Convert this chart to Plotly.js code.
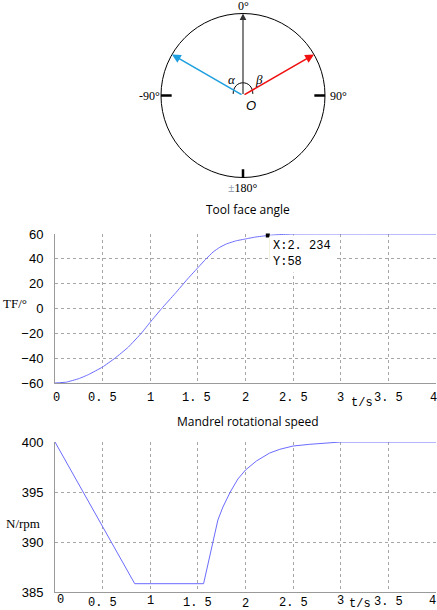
<!DOCTYPE html>
<html>
<head>
<meta charset="utf-8">
<script src="https://cdn.plot.ly/plotly-3.0.1.min.js"></script>
<style>html,body{margin:0;padding:0;background:#fff;}#chart{width:437px;height:610px;}</style>
</head>
<body>
<div id="chart"></div>
<script>
// ---- data ----
const tfTime  = [0, 0.12, 0.25, 0.35, 0.5, 0.63, 0.77, 0.91, 1.0, 1.12, 1.26, 1.4, 1.51, 1.58, 1.66, 1.73, 1.8, 1.9, 2.0, 2.1, 2.234, 2.35, 2.5, 4];
const tfAngle = [-60, -59.3, -56.5, -53.3, -47.1, -40, -31.1, -19.6, -11, 0, 12, 24.5, 33.7, 39.5, 45.5, 49.3, 52, 54.5, 56, 57.5, 58.8, 59.5, 60, 60];
const spTime  = [0, 0.837, 1.56, 1.605, 1.658, 1.71, 1.763, 1.84, 1.92, 2.0, 2.114, 2.254, 2.36, 2.5, 2.675, 2.886, 3.0, 4];
const spSpeed = [400, 385.83, 385.83, 387.8, 390.2, 392.2, 393.5, 395, 396.3, 397.2, 398.1, 398.9, 399.27, 399.6, 399.77, 399.93, 400, 400];
const xTickVals = [0, 0.5, 1, 1.5, 2, 2.5, 3, 3.5, 4];
const xTickText = ["0", "0. 5", "1", "1. 5", "2", "2. 5", "3", "3. 5", "4"];
const tfTickVals = [-60, -40, -20, 0, 20, 40, 60];
const spTickVals = [385, 390, 395, 400];
const arrowAngles = [0, -60, 60];       // degrees from the 0° direction
const dataTip = {t: 2.234, y: 58.8, label: "X:2. 234<br>Y:58"};

// ---- helpers ----
const W = 437, H = 610;
const px = v => v / W, py = v => 1 - v / H;
const gridColor = '#a6a6a6', axisColor = '#9a9a9a';
const monoFont = {family: 'Liberation Mono, monospace', size: 12, color: '#000'};
const sansFont = {family: 'Liberation Sans, Arial, sans-serif', size: 13, color: '#000'};
const serifFont = {family: 'Liberation Serif, serif', size: 13, color: '#000'};

function xAxisCfg(anchor) {
  return {
    domain: [px(55), px(436)], range: [0, 4], anchor: anchor,
    tickvals: xTickVals, showticklabels: false,
    showgrid: true, gridcolor: gridColor, griddash: 'dot', gridwidth: 1,
    showline: true, linecolor: axisColor, linewidth: 1,
    zeroline: false, ticks: '', fixedrange: true
  };
}
function yAxisCfg(anchor, dom, rng, vals) {
  return {
    domain: dom, range: rng, anchor: anchor, tickvals: vals, tickfont: sansFont,
    showgrid: true, gridcolor: gridColor, griddash: 'dot', gridwidth: 1,
    showline: true, linecolor: axisColor, linewidth: 1,
    zeroline: false, ticks: '', ticklabelstandoff: 8, fixedrange: true
  };
}

const traces = [
  {x: tfTime, y: tfAngle, xaxis: 'x', yaxis: 'y', mode: 'lines',
   line: {color: '#6b6bff', width: 1, shape: 'spline', smoothing: 0.3}, hoverinfo: 'skip'},
  {x: [dataTip.t], y: [dataTip.y], xaxis: 'x', yaxis: 'y', mode: 'markers',
   marker: {symbol: 'square', size: 4, color: '#000'}, hoverinfo: 'skip', cliponaxis: false},
  {x: spTime, y: spSpeed, xaxis: 'x2', yaxis: 'y2', mode: 'lines',
   line: {color: '#6b6bff', width: 1}, hoverinfo: 'skip'}
];

// ---- diagram (unit circle on axis x3/y3) ----
const rad = a => a * Math.PI / 180;
const arrowColors = ['#333333', '#1e9fe0', '#f01010'];
const annotations = [];
arrowAngles.forEach((a, i) => {
  annotations.push({
    xref: 'x3', yref: 'y3', axref: 'x3', ayref: 'y3',
    x: Math.sin(rad(a)), y: Math.cos(rad(a)), ax: 0, ay: 0,
    showarrow: true, arrowhead: 2, arrowsize: 1.1, arrowwidth: i === 0 ? 1.2 : 1.6,
    arrowcolor: arrowColors[i], text: ''
  });
});
const lbl = (text, x, y, xa, ya, opts) => Object.assign({
  xref: 'x3', yref: 'y3', x: x, y: y, xanchor: xa, yanchor: ya, text: text,
  showarrow: false, font: {family: 'Liberation Serif, serif', size: 12, color: '#000'}
}, opts || {});
annotations.push(lbl('0°', 0, 1, 'center', 'bottom', {yshift: -1}));
annotations.push(lbl('-90°', -1, 0, 'right', 'middle', {xshift: 1}));
annotations.push(lbl('90°', 1, 0, 'left', 'middle', {xshift: 3}));
annotations.push(lbl('<span style="color:#7f8fa6">±</span>180°', 0, -1, 'center', 'top', {yshift: -1}));
annotations.push(lbl('<i>α</i>', -0.13, 0.19, 'center', 'middle', {font: {family: 'Liberation Serif, serif', size: 13, color: '#000'}}));
annotations.push(lbl('<i>β</i>', 0.2, 0.19, 'center', 'middle', {font: {family: 'Liberation Serif, serif', size: 13, color: '#000'}}));
annotations.push(lbl('<i>O</i>', 0.1, -0.12, 'center', 'middle', {font: {family: 'Liberation Sans, sans-serif', size: 13, color: '#000'}}));

// x tick labels (placed individually to follow the reference's slightly uneven layout)
const topTickShift = [1, 0, 0, -1, 0, 0, 0, 0, -3];
const botTickShift = [5, 0, 0, 0, 0, 0, 0, 0, -4];
const botTickY = [600, 603, 601, 603, 604, 603, 601, 602, 601];
xTickVals.forEach((v, i) => {
  annotations.push({xref: 'x', yref: 'paper', x: v, y: py(398), text: xTickText[i], xshift: topTickShift[i],
    showarrow: false, xanchor: 'center', yanchor: 'middle', font: monoFont});
  annotations.push({xref: 'x2', yref: 'paper', x: v, y: py(botTickY[i]), text: xTickText[i], xshift: botTickShift[i],
    showarrow: false, xanchor: 'center', yanchor: 'middle', font: monoFont});
});

// titles and axis labels
annotations.push({xref: 'paper', yref: 'paper', x: px(248), y: py(210), text: 'Tool face angle',
  showarrow: false, xanchor: 'center', yanchor: 'middle', font: {family: 'Open Sans, sans-serif', size: 12, color: '#000'}});
annotations.push({xref: 'paper', yref: 'paper', x: px(248), y: py(422), text: 'Mandrel rotational speed',
  showarrow: false, xanchor: 'center', yanchor: 'middle', font: {family: 'Open Sans, sans-serif', size: 12, color: '#000'}});
annotations.push({xref: 'paper', yref: 'paper', x: px(1), y: py(303), text: 'TF/°',
  showarrow: false, xanchor: 'left', yanchor: 'middle', font: serifFont});
annotations.push({xref: 'paper', yref: 'paper', x: px(4), y: py(523), text: 'N/rpm',
  showarrow: false, xanchor: 'left', yanchor: 'middle', font: serifFont});
annotations.push({xref: 'paper', yref: 'paper', x: px(362), y: py(403), text: 't/s',
  showarrow: false, xanchor: 'center', yanchor: 'middle', font: monoFont});
annotations.push({xref: 'paper', yref: 'paper', x: px(360), y: py(604), text: 't/s',
  showarrow: false, xanchor: 'center', yanchor: 'middle', font: monoFont});
// data tip
annotations.push({xref: 'x', yref: 'y', x: dataTip.t, y: dataTip.y, text: dataTip.label,
  showarrow: false, xanchor: 'left', yanchor: 'top', align: 'left', xshift: 1, yshift: 0,
  bgcolor: '#ffffff', bordercolor: 'rgba(0,0,0,0)', borderpad: 3, font: monoFont});

const shapes = [
  {type: 'circle', xref: 'x3', yref: 'y3', x0: -1, x1: 1, y0: -1, y1: 1, line: {color: '#000', width: 1}},
  {type: 'line', xref: 'x3', yref: 'y3', x0: -1, x1: -0.87, y0: 0, y1: 0, line: {color: '#000', width: 2.5}},
  {type: 'line', xref: 'x3', yref: 'y3', x0: 1, x1: 0.87, y0: 0, y1: 0, line: {color: '#000', width: 2.5}},
  {type: 'line', xref: 'x3', yref: 'y3', x0: 0, x1: 0, y0: -1, y1: -0.9, line: {color: '#000', width: 2.5}},
  {type: 'path', xref: 'x3', yref: 'y3', path: 'M -0.12,0.02 C -0.12,0.2 0.12,0.2 0.12,0.02', line: {color: '#000', width: 1}},
  // data tip box left edge
  {type: 'line', xref: 'paper', yref: 'paper', x0: px(269.5), x1: px(269.5), y0: py(237), y1: py(261), line: {color: '#e6e2c0', width: 1}}
];

const layout = {
  width: W, height: H, margin: {l: 0, r: 0, t: 0, b: 0},
  paper_bgcolor: '#fff', plot_bgcolor: '#fff', showlegend: false,
  xaxis: xAxisCfg('y'),
  yaxis: yAxisCfg('x', [py(383), py(234)], [-60, 60], tfTickVals),
  xaxis2: xAxisCfg('y2'),
  yaxis2: yAxisCfg('x2', [py(592), py(442)], [385, 400], spTickVals),
  xaxis3: {domain: [147.5 / W, 338.5 / W], range: [-1.1646, 1.1646], visible: false, anchor: 'y3', fixedrange: true},
  yaxis3: {domain: [py(191), 1], range: [-1.1646, 1.1646], visible: false, anchor: 'x3', fixedrange: true},
  annotations: annotations, shapes: shapes
};
// invisible trace to activate the diagram axes
traces.push({x: [0], y: [0], xaxis: 'x3', yaxis: 'y3', mode: 'markers', marker: {size: 0.1, opacity: 0}, hoverinfo: 'skip'});

Plotly.newPlot('chart', traces, layout, {staticPlot: true, displayModeBar: false});
</script>
</body>
</html>
